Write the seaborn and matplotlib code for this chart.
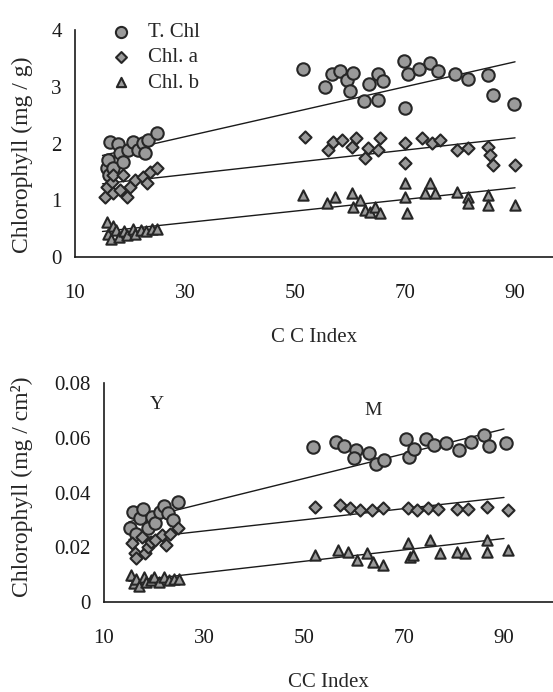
import matplotlib
matplotlib.use("Agg")
import matplotlib.pyplot as plt
import seaborn as sns
import pandas as pd

# ---- top panel: chlorophyll per gram (Y = young, M = mature leaves) ----
g_tchl_x = [15.8, 16.0, 16.2, 16.4, 16.9, 17.8, 18.2, 18.7, 19.6, 20.5, 21.5, 22.4, 22.7, 23.3, 24.9,
            51.5, 55.5, 56.7, 58.2, 59.5, 60.5, 60.0, 62.5, 63.5, 65.0, 65.0, 66.0, 69.8, 70.0,
            70.5, 72.5, 74.5, 76.0, 79.0, 81.5, 85.0, 86.0, 89.8]
g_tchl_y = [1.57, 1.71, 1.45, 2.03, 1.57, 2.00, 1.83, 1.68, 1.89, 2.03, 1.89, 2.01, 1.83, 2.06, 2.19,
            3.32, 3.00, 3.22, 3.27, 3.12, 3.25, 2.92, 2.75, 3.05, 3.22, 2.77, 3.10, 3.45, 2.63,
            3.22, 3.32, 3.42, 3.28, 3.22, 3.13, 3.20, 2.85, 2.70]
g_chla_x = [15.5, 15.8, 16.7, 16.9, 16.9, 18.2, 18.7, 19.5, 20.0, 20.9, 22.4, 23.1, 23.6, 24.9,
            51.8, 56.0, 56.9, 58.5, 60.4, 61.0, 62.7, 63.3, 65.0, 65.5, 70.0, 70.0, 73.0, 74.9,
            76.4, 79.5, 81.5, 85.0, 85.5, 86.0, 90.0]
g_chla_y = [1.06, 1.23, 1.32, 1.45, 1.13, 1.18, 1.45, 1.06, 1.23, 1.36, 1.41, 1.30, 1.50, 1.57,
            2.12, 1.89, 2.03, 2.06, 1.94, 2.10, 1.75, 1.92, 1.89, 2.10, 2.01, 1.66, 2.10, 2.01,
            2.06, 1.89, 1.92, 1.94, 1.80, 1.62, 1.62]
g_chlb_x = [15.8, 16.0, 16.5, 17.0, 17.5, 18.0, 19.0, 19.5, 20.5, 21.0, 22.0, 23.0, 24.0, 25.0,
            51.5, 55.8, 57.3, 60.4, 60.6, 61.8, 62.7, 63.6, 64.5, 65.5, 70.0, 70.0, 70.4, 73.6,
            74.5, 75.5, 79.5, 81.5, 81.5, 85.0, 85.0, 90.0]
g_chlb_y = [0.62, 0.40, 0.32, 0.55, 0.48, 0.35, 0.45, 0.38, 0.50, 0.40, 0.48, 0.45, 0.50, 0.50,
            1.09, 0.95, 1.06, 1.13, 0.88, 1.00, 0.83, 0.80, 0.88, 0.78, 1.30, 1.06, 0.78, 1.13,
            1.30, 1.13, 1.15, 1.06, 0.95, 1.09, 0.92, 0.92]

# ---- bottom panel: chlorophyll per cm2 ----
c_tchl_x = [15.2, 15.8, 16.5, 17.2, 17.8, 18.8, 19.6, 20.3, 21.2, 22.0, 22.8, 23.8, 24.8,
            51.8, 56.5, 58.0, 60.5, 60.0, 63.0, 64.5, 66.0, 70.5, 71.0, 72.0, 74.5, 76.0,
            78.5, 81.0, 83.5, 86.0, 87.0, 90.5]
c_tchl_y = [0.027, 0.0329, 0.025, 0.0307, 0.034, 0.027, 0.031, 0.029, 0.033, 0.035, 0.0325, 0.030, 0.0366,
            0.0565, 0.0585, 0.057, 0.0555, 0.0525, 0.0545, 0.0505, 0.052, 0.0595, 0.053, 0.056, 0.0595, 0.0575,
            0.058, 0.0555, 0.0585, 0.061, 0.057, 0.058]
c_chla_x = [15.6, 16.2, 16.5, 17.6, 18.2, 18.8, 19.5, 20.2, 21.6, 22.5, 23.2, 24.8,
            52.2, 57.2, 59.2, 61.2, 63.6, 65.8, 70.8, 72.6, 74.8, 76.8, 80.6, 82.8, 86.6, 90.8]
c_chla_y = [0.0216, 0.018, 0.016, 0.0238, 0.018, 0.020, 0.022, 0.0227, 0.0245, 0.021, 0.025, 0.027,
            0.0347, 0.0355, 0.0344, 0.0336, 0.0336, 0.0344, 0.0344, 0.0336, 0.0345, 0.034, 0.034, 0.034, 0.0347, 0.0336]
c_chlb_x = [15.5, 16.0, 16.5, 17.0, 18.0, 18.5, 19.5, 20.0, 21.0, 22.0, 23.0, 24.0, 25.0,
            52.2, 56.8, 58.8, 60.6, 62.6, 63.8, 65.8, 70.8, 71.2, 71.8, 75.2, 77.2, 80.6, 82.2,
            86.6, 86.6, 90.8]
c_chlb_y = [0.010, 0.007, 0.0085, 0.006, 0.009, 0.0075, 0.008, 0.009, 0.0075, 0.009, 0.008, 0.0085, 0.0085,
            0.0172, 0.019, 0.0183, 0.0154, 0.018, 0.0146, 0.0135, 0.0216, 0.0165, 0.0172, 0.0227, 0.018, 0.0183, 0.018,
            0.0227, 0.0183, 0.019]

# trend lines (value at x=15 and x=90)
trend_x = [15, 90]
g_trend = {"T. Chl": [1.79, 3.44], "Chl. a": [1.29, 2.10], "Chl. b": [0.45, 1.22]}
c_trend = {"T. Chl": [0.0293, 0.0632], "Chl. a": [0.0229, 0.0382], "Chl. b": [0.0076, 0.0232]}

series = ["T. Chl", "Chl. a", "Chl. b"]
markers = {"T. Chl": "o", "Chl. a": "D", "Chl. b": "^"}
sizes = {"T. Chl": 80, "Chl. a": 38, "Chl. b": 55}

sns.set_style("white")
plt.rcParams["font.family"] = ["Liberation Serif", "DejaVu Serif"]

fig = plt.figure(figsize=(5.53, 6.92), dpi=100)
ax1 = fig.add_axes([0.1356, 0.6286, 0.8644, 0.328])
ax2 = fig.add_axes([0.188, 0.130, 0.812, 0.3165])


def draw_panel(ax, xs, ys, trends):
    for name in series:
        tdf = pd.DataFrame({"x": trend_x, "y": trends[name]})
        sns.lineplot(data=tdf, x="x", y="y", color="#1a1a1a", lw=1.0, ax=ax, zorder=1)
    for name, x, y in zip(series, xs, ys):
        df = pd.DataFrame({"x": x, "y": y})
        sns.scatterplot(data=df, x="x", y="y", marker=markers[name], s=sizes[name],
                        color="#9a9a9a", edgecolor="#262626", linewidth=1.5,
                        label=name, ax=ax, zorder=3)
    sns.despine(ax=ax)
    for sp in ["left", "bottom"]:
        ax.spines[sp].set_color("#1a1a1a")
        ax.spines[sp].set_linewidth(1.2)
    ax.set_xticks([10, 30, 50, 70, 90])
    ax.tick_params(axis="both", direction="out", length=3.5, width=1, colors="#1a1a1a",
                   labelsize=15)
    ax.tick_params(axis="x", pad=16)
    ax.tick_params(axis="y", pad=6)


draw_panel(ax1, [g_tchl_x, g_chla_x, g_chlb_x], [g_tchl_y, g_chla_y, g_chlb_y], g_trend)
ax1.set_xlim(10, 96.9)
ax1.set_ylim(0, 4)
ax1.set_yticks([0, 1, 2, 3, 4])
ax1.set_xlabel("C C Index", fontsize=15, labelpad=18)
ax1.set_ylabel("Chlorophyll (mg / g)", fontsize=17)
ax1.yaxis.set_label_coords(0.06, 0.776, transform=fig.transFigure)
ax1.legend(loc="upper left", bbox_to_anchor=(0.035, 1.07), frameon=False, fontsize=15,
           handletextpad=0.3, labelspacing=0.28, borderaxespad=0, markerscale=0.9)

draw_panel(ax2, [c_tchl_x, c_chla_x, c_chlb_x], [c_tchl_y, c_chla_y, c_chlb_y], c_trend)
ax2.legend_.remove()
ax2.set_xlim(10, 99.8)
ax2.set_ylim(0, 0.08)
ax2.set_yticks([0, 0.02, 0.04, 0.06, 0.08])
ax2.set_yticklabels(["0", "0.02", "0.04", "0.06", "0.08"])
ax2.set_xlabel("CC Index", fontsize=15, labelpad=18)
ax2.set_ylabel("Chlorophyll (mg / cm²)", fontsize=17)
ax2.yaxis.set_label_coords(0.06, 0.296, transform=fig.transFigure)
ax2.text(20.6, 0.072, "Y", fontsize=14, ha="center", va="center")
ax2.text(63.8, 0.070, "M", fontsize=14, ha="center", va="center")

fig.savefig("out.png", dpi=100)
